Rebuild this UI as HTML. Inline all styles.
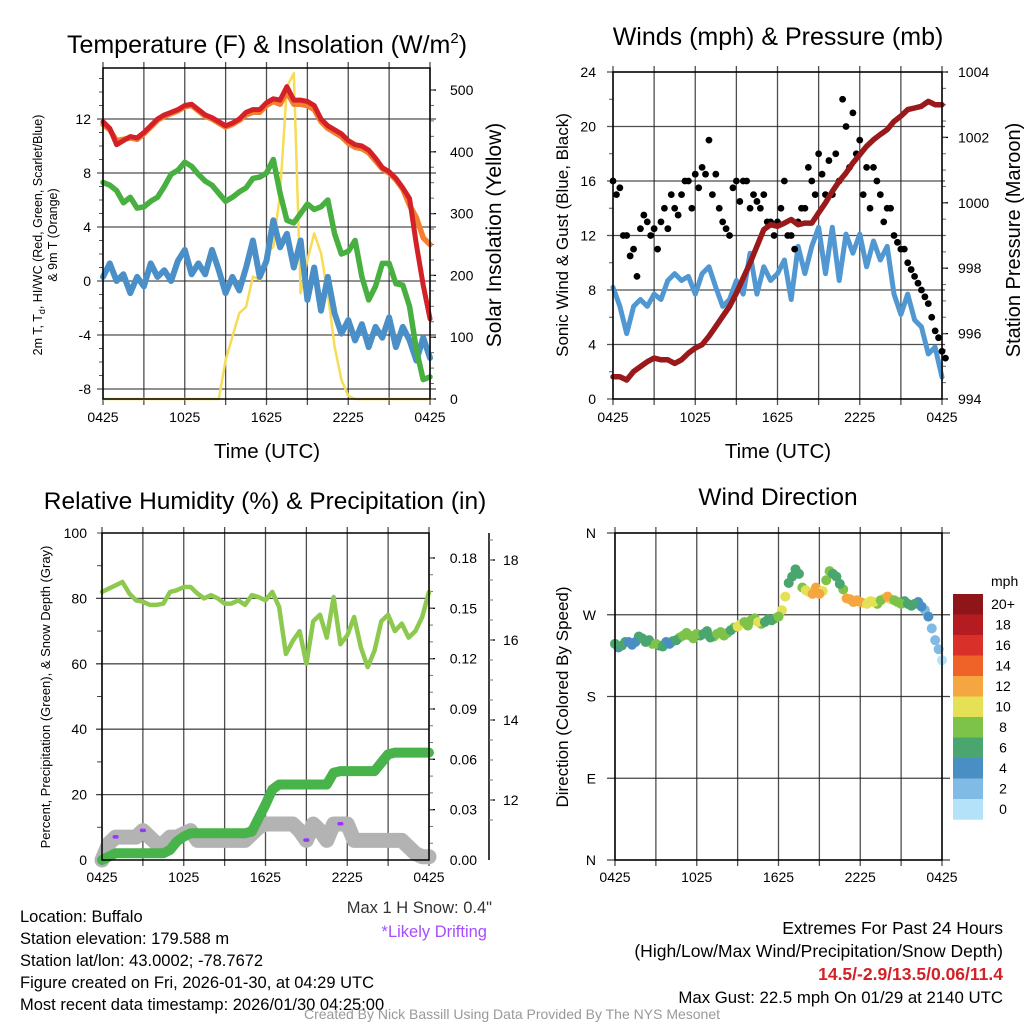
<!DOCTYPE html>
<html><head><meta charset="utf-8">
<style>
html,body{margin:0;padding:0;background:#fff;}
svg{display:block;font-family:"Liberation Sans",Arial,sans-serif;}
</style></head>
<body>
<svg id="chart" width="1024" height="1024" viewBox="0 0 1024 1024" xmlns="http://www.w3.org/2000/svg">
<rect x="0" y="0" width="1024" height="1024" fill="#fff"/>
</svg>
<script>
// ---------- DATA (30-minute samples 0425 -> 0425 UTC) ----------
const timeTicks = ["0425","1025","1625","2225","0425"];
const tempRed = [11.8,11.3,10.1,10.4,10.7,10.6,11.0,11.5,12.0,12.3,12.5,12.7,13.0,13.1,12.7,12.3,12.1,11.8,11.5,11.7,12.0,12.5,12.7,12.7,13.2,13.5,13.4,14.4,13.4,13.4,13.3,13.0,12.0,11.5,11.2,10.9,10.4,10.1,10.0,9.7,9.1,8.4,8.1,7.6,6.9,6.1,2.7,-0.3,-2.8];
const tempOrange = [11.6,11.2,10.4,10.5,10.6,10.5,10.9,11.4,11.9,12.2,12.4,12.6,12.9,13.0,12.6,12.2,12.0,11.7,11.4,11.6,11.9,12.3,12.5,12.5,13.0,13.3,13.1,14.0,13.1,13.1,13.0,12.7,11.8,11.3,11.0,10.7,10.2,9.9,9.8,9.5,8.9,8.3,8.0,7.5,6.8,5.6,4.7,3.2,2.7];
const tempGreen = [7.3,7.1,6.7,5.8,6.2,5.4,5.5,5.9,6.2,7.0,7.9,8.2,8.8,8.5,7.9,7.4,7.1,6.5,5.9,6.2,6.6,6.9,7.6,7.7,8.0,9.0,6.5,4.5,4.3,5.0,5.7,5.3,5.5,6.0,3.5,2.0,2.2,3.0,0.3,-1.4,-0.4,1.3,1.3,-0.2,-0.3,-1.9,-5.1,-7.3,-7.1];
const tempBlue = [0.3,1.3,0.0,0.5,-0.9,0.3,-0.4,1.3,0.3,0.8,0.0,1.5,2.3,0.5,1.3,0.5,2.3,0.8,-0.9,0.3,-0.7,1.0,3.0,0.3,1.5,4.5,2.5,3.5,1.0,3.0,-1.4,1.0,-2.2,0.3,-2.4,-3.9,-2.9,-4.4,-3.2,-4.9,-3.4,-4.2,-2.7,-4.9,-3.4,-4.4,-5.9,-4.2,-5.7];
const solar = [0,0,0,0,0,0,0,0,0,0,0,0,0,0,0,0,0,0,63,101,139,149,198,193,236,246,333,505,527,171,225,268,236,171,85,31,5,0,0,0,0,0,0,0,0,0,0,0,0];
const tempTicks = [-8,-4,0,4,8,12];
const solarTicks = [0,100,200,300,400,500];

const wind = [8.2,6.8,4.8,6.8,7.3,6.8,7.7,7.3,8.7,9.2,8.7,9.0,7.7,9.2,9.7,8.2,6.8,7.3,8.7,7.7,10.7,7.7,9.7,8.7,9.2,10.2,7.3,11.2,9.2,11.2,12.6,9.2,12.6,8.7,12.1,10.7,12.1,9.7,11.6,10.2,11.2,7.7,6.2,7.7,5.8,5.3,3.3,3.8,1.6];
const gustA = [16,15.5,12,11,12.5,13,12.5,13,12.5,14,15,16,16.5,17,19,16.5,13,12,16,16,14,14.5,15,13,13,16,12,13,14,16,18,15,15,16,20,21,19,17,17,15,14,12,11,10,9,8,7,5,3.5];
const gustB = [15,12,10.5,9,13.5,12,11,14,15,13.5,16,14,15.5,16.5,15,14,12.5,15.5,14.5,16,15,14,13,12,14,12,11,14,17,15,16.5,17.5,18,22,17,18,15,14,16,13,14,11.5,11,9.5,8.5,7.5,6,4.5,3];
const pressure = [994.68,994.68,994.58,994.84,994.99,995.14,995.25,995.20,995.20,995.09,995.20,995.40,995.56,995.66,995.92,996.22,996.53,996.83,997.24,997.70,998.16,998.67,999.18,999.33,999.28,999.38,999.49,999.33,999.38,999.38,999.69,1000.0,1000.35,1000.66,1000.91,1001.22,1001.47,1001.73,1001.93,1002.09,1002.24,1002.49,1002.65,1002.85,1002.9,1002.95,1003.10,1003.0,1003.0];
const windTicks = [0,4,8,12,16,20,24];
const pressTicks = [994,996,998,1000,1002,1004];

const rh = [82,83,84,85,81.5,79.4,79,78,78,78.4,82,82.5,83.5,83.5,81.5,80,81,80,78.4,78.4,79.4,78,81,80.4,79.4,82,77.4,63,67,70,60,73,75,68,80.4,66,68.7,74.3,65,59,64,73,75,70,72.3,68,70,74.3,82];
const precip = [0,0.002,0.004,0.004,0.004,0.004,0.004,0.004,0.004,0.004,0.006,0.011,0.014,0.016,0.016,0.016,0.016,0.016,0.016,0.016,0.016,0.016,0.017,0.025,0.033,0.042,0.045,0.045,0.045,0.045,0.045,0.045,0.045,0.045,0.052,0.053,0.053,0.053,0.053,0.053,0.053,0.058,0.063,0.064,0.064,0.064,0.064,0.064,0.064];
const snowDepth = [0,5,7,7,7,7,9,7,5,5,7,7,8,9,6,6,6,6,6,6,6,6,8,10,11,11,11,11,11,9,6,11,9,6,11,11,11,6,6,6,6,6,6,6,6,4,2,1,1];
const driftIdx = [2,6,30,35];
const rhTicks = [0,20,40,60,80,100];
const precipTicks = ["0.00","0.03","0.06","0.09","0.12","0.15","0.18"];
const snowTicks = [12,14,16,18];

const direction = [238,236,240,240,244,242,238,235,238,242,247,247,249,249,245,249,247,253,257,262,264,262,262,264,268,290,312,315,297,293,293,308,315,304,288,284,284,282,284,286,290,286,282,282,282,279,268,242,220];
const dirSpeed = [6,7,5,4,6,7,8,6,5,7,8,9,8,7,6,9,8,7,10,9,8,10,7,6,9,10,6,7,10,12,12,9,7,6,12,13,12,11,10,8,12,9,8,6,6,4,4,2,1];
const directionB = [234,240,237,246,240,238,236,240,241,245,250,244,247,252,246,251,250,256,260,258,266,260,265,266,275,305,320,300,295,300,296,318,312,298,287,286,283,285,282,288,287,284,285,280,284,275,255,232];
const dirSpeedB = [5,6,4,6,7,8,7,5,6,8,9,8,7,6,8,9,8,9,10,8,9,8,7,8,10,7,6,9,11,12,11,8,7,8,13,12,11,10,9,11,10,8,7,6,5,3,2,2];
const dirTicks = ["N","E","S","W","N"];
const cbLabels = ["20+","18","16","14","12","10","8","6","4","2","0"];
const cbColors = ["#8e1518","#b51c22","#d9302a","#ef6228","#f5a640","#e6e054","#7dc34a","#4aa56e","#4a8fc4","#7fbbe4","#b4e2f8"];

// ---------- HELPERS ----------
const svg = document.getElementById('chart');
const NS = "http://www.w3.org/2000/svg";
function el(tag, attrs, parent){
  const e = document.createElementNS(NS, tag);
  for (const k in attrs) e.setAttribute(k, attrs[k]);
  (parent||svg).appendChild(e);
  return e;
}
function txt(s, x, y, size, anchor, parent, extra){
  const t = el('text', Object.assign({x:x, y:y, 'font-size':size, 'text-anchor':anchor||'middle', fill:'#000'}, extra||{}), parent);
  t.textContent = s;
  return t;
}
function group(parent){ return el('g', {}, parent); }
function xAt(i, x0, x1){ return x0 + i/48*(x1-x0); }
function polyPts(arr, x0, x1, yf){ return arr.map((v,i)=>xAt(i,x0,x1).toFixed(1)+","+yf(v).toFixed(1)).join(" "); }
function vgrid(g, x0, x1, yT, yB){
  for (let k=0;k<=8;k++){
    const x = x0 + k*(x1-x0)/8;
    const l = el('line',{x1:x,y1:yT-6,x2:x,y2:yB+6,stroke:'#222','stroke-width':1.3,'stroke-opacity':0.8},g);
    
    
  }
}
function xLabels(g, x0, x1, y){
  timeTicks.forEach((s,k)=>{
    const t = txt(s, x0 + k*(x1-x0)/4, y, 14, 'middle', g);
    
    
  });
}

// ---------- PANEL 1 : Temperature ----------
(function(){
  const g = group();
  
  
  const x0=103,x1=430,yT=68,yB=399;
  const yt = v => 281 - v*13.5;
  const ys = v => 399 - v*0.618;
  vgrid(g,x0,x1,yT,yB);
  tempTicks.forEach(v=>{
    const l = el('line',{x1:x0-6,y1:yt(v),x2:x1+6,y2:yt(v),stroke:'#222','stroke-width':1.3,'stroke-opacity':0.8},g);
    
    
    const t = txt(String(v), x0-12, yt(v)+5, 14, 'end', g);
    
    
  });
  for (let v=-8; v<=15; v++){
    const l = el('line',{x1:x0-4,y1:yt(v),x2:x0,y2:yt(v),stroke:'#555','stroke-width':1},g);
    
    
  }
  solarTicks.forEach(v=>{
    const l = el('line',{x1:x1,y1:ys(v),x2:x1+6,y2:ys(v),stroke:'#000','stroke-width':1.3},g);
    
    
    const t = txt(String(v), x1+20, ys(v)+5, 14, 'start', g);
    
    
  });
  for (let v=0; v<=520; v+=25){
    const l = el('line',{x1:x1,y1:ys(v),x2:x1+4,y2:ys(v),stroke:'#666','stroke-width':1},g);
    
    
  }
  const sol = el('polyline',{points:polyPts(solar,x0,x1,ys),fill:'none',stroke:'#f7dc55','stroke-width':2.5,'stroke-linejoin':'round'},g);
  
  
  const b = el('polyline',{points:polyPts(tempBlue,x0,x1,yt),fill:'none',stroke:'#4a8fc8','stroke-width':6,'stroke-linejoin':'round','stroke-linecap':'round'},g);
  
  
  const gr = el('polyline',{points:polyPts(tempGreen,x0,x1,yt),fill:'none',stroke:'#47b040','stroke-width':5.5,'stroke-linejoin':'round','stroke-linecap':'round'},g);
  
  
  const o = el('polyline',{points:polyPts(tempOrange,x0,x1,yt),fill:'none',stroke:'#f28030','stroke-width':5.5,'stroke-linejoin':'round','stroke-linecap':'round'},g);
  
  
  const r = el('polyline',{points:polyPts(tempRed,x0,x1,yt),fill:'none',stroke:'#d42127','stroke-width':5,'stroke-linejoin':'round','stroke-linecap':'round'},g);
  
  
  const fr = el('rect',{x:x0,y:yT,width:x1-x0,height:yB-yT,fill:'none',stroke:'#000','stroke-width':1.5},g);
  
  
  xLabels(g,x0,x1,422);
  const title = el('text',{x:267,y:53,'font-size':25,'text-anchor':'middle'},g);
  title.innerHTML = 'Temperature (F) &amp; Insolation (W/m<tspan font-size="15" dy="-10">2</tspan><tspan dy="10">)</tspan>';
  
  
  const xt = txt('Time (UTC)', 267, 458, 20.5, 'middle', g);
  
  
  const yl = el('text',{transform:'translate(42,235) rotate(-90)','font-size':12.5,'text-anchor':'middle'},g);
  yl.innerHTML = '2m T, T<tspan font-size="9" dy="3">d</tspan><tspan dy="-3">, HI/WC (Red, Green, Scarlet/Blue)</tspan>';
  
  
  const yl2 = txt('& 9m T (Orange)', 0, 0, 12.5, 'middle', g, {transform:'translate(57,235) rotate(-90)'});
  
  
  const yr = txt('Solar Insolation (Yellow)', 0, 0, 21, 'middle', g, {transform:'translate(501,235) rotate(-90)'});
  
  
})();

// ---------- PANEL 2 : Winds ----------
(function(){
  const g = group();
  
  
  const x0=613,x1=942,yT=72,yB=399;
  const yw = v => 399 - v*13.625;
  const yp = p => 399 - (p-994)*32.7;
  vgrid(g,x0,x1,yT,yB);
  windTicks.forEach(v=>{
    const l = el('line',{x1:x0-6,y1:yw(v),x2:x1+3,y2:yw(v),stroke:'#222','stroke-width':1.3,'stroke-opacity':0.8},g);
    
    
    const t = txt(String(v), x0-17, yw(v)+5, 14, 'end', g);
    
    
  });
  for (let v=0; v<=24; v+=2){
    const l = el('line',{x1:x0-4,y1:yw(v),x2:x0,y2:yw(v),stroke:'#555','stroke-width':1},g);
    
    
  }
  pressTicks.forEach(v=>{
    const l = el('line',{x1:x1,y1:yp(v),x2:x1+6,y2:yp(v),stroke:'#000','stroke-width':1.3},g);
    
    
    const t = txt(String(v), x1+16, yp(v)+5, 14, 'start', g);
    
    
  });
  for (let v=994; v<=1004; v+=0.5){
    const l = el('line',{x1:x1,y1:yp(v),x2:x1+4,y2:yp(v),stroke:'#666','stroke-width':1},g);
    
    
  }
  const w = el('polyline',{points:polyPts(wind,x0,x1,yw),fill:'none',stroke:'#5198d2','stroke-width':5,'stroke-linejoin':'round','stroke-linecap':'round'},g);
  
  
  [gustA,gustB].forEach((arr,s)=>{
    arr.forEach((v,i)=>{
      const c = el('circle',{cx:xAt(i+s*0.5,x0,x1),cy:yw(v),r:3.4,fill:'#000'},g);
      
      
    });
  });
  const p = el('polyline',{points:polyPts(pressure,x0,x1,yp),fill:'none',stroke:'#9a1a1c','stroke-width':5.5,'stroke-linejoin':'round','stroke-linecap':'round'},g);
  
  
  const fr = el('rect',{x:x0,y:yT,width:x1-x0,height:yB-yT,fill:'none',stroke:'#000','stroke-width':1.5},g);
  
  
  xLabels(g,x0,x1,422);
  const title = txt('Winds (mph) & Pressure (mb)', 778, 45, 25, 'middle', g);
  
  
  const xt = txt('Time (UTC)', 778, 458, 20.5, 'middle', g);
  
  
  const yl = txt('Sonic Wind & Gust (Blue, Black)', 0, 0, 17, 'middle', g, {transform:'translate(568,235) rotate(-90)'});
  
  
  const yr = txt('Station Pressure (Maroon)', 0, 0, 20, 'middle', g, {transform:'translate(1020,240) rotate(-90)'});
  
  
})();

// ---------- PANEL 3 : RH & Precip ----------
(function(){
  const g = group();
  
  
  const x0=102,x1=429,yT=533,yB=860;
  const yl = v => 860 - v*3.27;
  const ypr = v => 860 - v*1678;
  const ysn = v => 800 - (v-12)*40;
  vgrid(g,x0,x1,yT,yB);
  rhTicks.forEach(v=>{
    if (v>0 && v<100){
      const l = el('line',{x1:x0-6,y1:yl(v),x2:x1,y2:yl(v),stroke:'#222','stroke-width':1.3,'stroke-opacity':0.8},g);
      
      
    }
    const t = txt(String(v), x0-15, yl(v)+5, 14, 'end', g);
    
    
  });
  for (let v=0; v<=100; v+=10){
    const l = el('line',{x1:x0-5,y1:yl(v),x2:x0,y2:yl(v),stroke:'#444','stroke-width':1},g);
    
    
  }
  precipTicks.forEach(s=>{
    const v = parseFloat(s);
    const l = el('line',{x1:x1,y1:ypr(v),x2:x1+6,y2:ypr(v),stroke:'#000','stroke-width':1.3},g);
    
    
    const t = txt(s, x1+48, ypr(v)+5, 14, 'end', g);
    
    
  });
  for (let v=0; v<=0.19; v+=0.01){
    const l = el('line',{x1:x1,y1:ypr(v),x2:x1+4,y2:ypr(v),stroke:'#777','stroke-width':1},g);
    
    
  }
  const sa = el('line',{x1:489,y1:533,x2:489,y2:860,stroke:'#000','stroke-width':1.5},g);
  
  
  snowTicks.forEach(v=>{
    const l = el('line',{x1:489,y1:ysn(v),x2:495,y2:ysn(v),stroke:'#000','stroke-width':1.3},g);
    
    
    const t = txt(String(v), 503, ysn(v)+5, 14, 'start', g);
    
    
  });
  for (let v=11.5; v<=18.5; v+=0.5){
    const l = el('line',{x1:489,y1:ysn(v),x2:493,y2:ysn(v),stroke:'#777','stroke-width':1},g);
    
    
  }
  const sd = el('polyline',{points:polyPts(snowDepth,x0,x1,yl),fill:'none',stroke:'#b3b3b3','stroke-width':15,'stroke-linejoin':'round','stroke-linecap':'round'},g);
  
  
  driftIdx.forEach(i=>{
    const d = el('rect',{x:xAt(i,x0,x1)-3,y:yl(snowDepth[i])-2,width:6,height:3.5,fill:'#9933ff',rx:1.5},g);
    
    
  });
  const pr = el('polyline',{points:polyPts(precip,x0,x1,ypr),fill:'none',stroke:'#47b34a','stroke-width':10,'stroke-linejoin':'round','stroke-linecap':'round'},g);
  
  
  const rl = el('polyline',{points:polyPts(rh,x0,x1,yl),fill:'none',stroke:'#8dc94e','stroke-width':4.5,'stroke-linejoin':'round','stroke-linecap':'round'},g);
  
  
  const fr = el('rect',{x:x0,y:yT,width:x1-x0,height:yB-yT,fill:'none',stroke:'#000','stroke-width':1.5},g);
  
  
  xLabels(g,x0,x1,882);
  const title = txt('Relative Humidity (%) & Precipitation (in)', 265, 509, 24.5, 'middle', g);
  
  
  const yt = txt('Percent, Precipitation (Green), & Snow Depth (Gray)', 0, 0, 13, 'middle', g, {transform:'translate(50,697) rotate(-90)'});
  
  
  const ms = txt('Max 1 H Snow: 0.4"', 492, 913, 16.5, 'end', g, {fill:'#333'});
  
  
  const dn = txt('*Likely Drifting', 487, 937, 16.5, 'end', g, {fill:'#a64dff'});
  
  
})();

// ---------- PANEL 4 : Wind Direction ----------
(function(){
  const g = group();
  
  
  const x0=615,x1=942,yT=533,yB=860;
  const yd = d => 860 - d*(327/360);
  vgrid(g,x0,x1,yT,yB);
  dirTicks.forEach((s,k)=>{
    const y = yd(k*90);
    const l = el('line',{x1:x0-8,y1:y,x2:x1+8,y2:y,stroke:'#222','stroke-width':1.3,'stroke-opacity':0.85},g);
    
    
    const t = txt(s, x0-19, y+5, 14, 'end', g);
    
    
  });
  directionB.forEach((d,i)=>{
    const ci = 10 - Math.min(10, Math.floor(dirSpeedB[i]/2));
    const c = el('circle',{cx:xAt(i+0.5,x0,x1),cy:yd(d),r:5,fill:cbColors[ci]},g);
    
    
  });
  direction.forEach((d,i)=>{
    const ci = 10 - Math.min(10, Math.floor(dirSpeed[i]/2));
    const c = el('circle',{cx:xAt(i,x0,x1),cy:yd(d),r:5,fill:cbColors[ci]},g);
    
    
  });
  const fr = el('rect',{x:x0,y:yT,width:x1-x0,height:yB-yT,fill:'none',stroke:'#000','stroke-width':1.5},g);
  
  
  xLabels(g,x0,x1,882);
  const title = txt('Wind Direction', 778, 505, 24.5, 'middle', g);
  
  
  const yt = txt('Direction (Colored By Speed)', 0, 0, 17, 'middle', g, {transform:'translate(568,697) rotate(-90)'});
  
  
  const cb = group(g);
  
  
  const mph = txt('mph', 991, 586, 14, 'start', cb);
  
  
  cbLabels.forEach((s,k)=>{
    const y = 594 + k*20.5;
    const r = el('rect',{x:953,y:y,width:30,height:20.7,fill:cbColors[k]},cb);
    
    
    const t = txt(s, 1003, y+15, 14, 'middle', cb);
    
    
  });
})();

// ---------- FOOTER TEXT ----------
(function(){
  const g = group();
  
  
  const lines = ["Location: Buffalo","Station elevation: 179.588 m","Station lat/lon: 43.0002; -78.7672","Figure created on Fri, 2026-01-30, at 04:29 UTC","Most recent data timestamp: 2026/01/30 04:25:00"];
  lines.forEach((s,k)=>{
    const t = txt(s, 20, 922 + k*22, 16.5, 'start', g);
    
    
  });
  const e = group();
  
  
  const a = txt('Extremes For Past 24 Hours', 1003, 934, 17.5, 'end', e);
  
  
  const b = txt('(High/Low/Max Wind/Precipitation/Snow Depth)', 1003, 957, 17.5, 'end', e);
  
  
  const c = txt('14.5/-2.9/13.5/0.06/11.4', 1003, 980, 17.5, 'end', e, {fill:'#d42127','font-weight':'bold'});
  
  
  const d = txt('Max Gust: 22.5 mph On 01/29 at 2140 UTC', 1003, 1003, 16.8, 'end', e);
  
  
  const f = txt('Created By Nick Bassill Using Data Provided By The NYS Mesonet', 512, 1019, 14, 'middle', null, {fill:'#999'});
  
  
})();
</script>
</body></html>
